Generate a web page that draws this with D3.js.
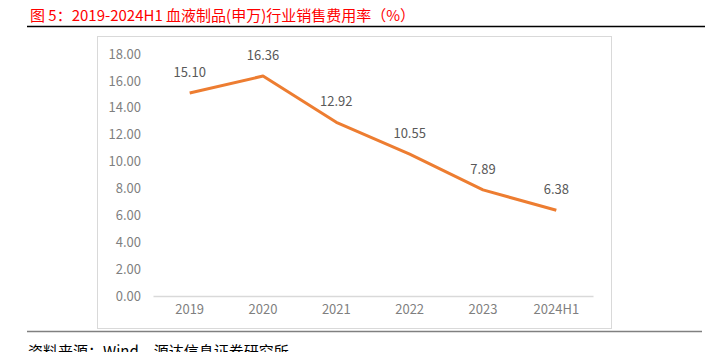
<!DOCTYPE html>
<html><head><meta charset="utf-8">
<script src="https://cdn.jsdelivr.net/npm/d3@7"></script>
<style>
body{margin:0;background:#fff;}
svg{display:block;}
</style></head>
<body>
<svg id="c" width="714" height="352"></svg>
<script>
const categories = ["2019","2020","2021","2022","2023","2024H1"];
const values = [15.10, 16.36, 12.92, 10.55, 7.89, 6.38];
const yTicks = [0,2,4,6,8,10,12,14,16,18];
const titleText = "图 5：2019-2024H1 血液制品(申万)行业销售费用率（%）";
const sourceText = "资料来源：Wind，源达信息证券研究所";

const svg = d3.select("#c");
const font = "'Noto Sans CJK SC','Noto Sans',sans-serif";

svg.append("text").attr("x",30).attr("y",21).attr("fill","#ff0000")
  .attr("font-family",font).attr("font-size",15).text(titleText);
svg.append("line").attr("x1",27).attr("x2",705).attr("y1",26.5).attr("y2",26.5)
  .attr("stroke","#000").attr("stroke-width",1.3);

svg.append("rect").attr("x",97.5).attr("y",36.5).attr("width",514).attr("height",292)
  .attr("fill","#fff").attr("stroke","#d9d9d9").attr("stroke-width",1);

svg.append("line").attr("x1",27).attr("x2",702).attr("y1",331.5).attr("y2",331.5)
  .attr("stroke","#808080").attr("stroke-width",1.3);
svg.append("text").attr("x",28).attr("y",357).attr("fill","#000")
  .attr("font-family",font).attr("font-size",15).text(sourceText);

const x = d3.scaleBand().domain(categories).range([153,593]);
const y = d3.scaleLinear().domain([0,18]).range([296,54]);

const yAxis = svg.append("g").attr("transform","translate(153,0)")
  .call(d3.axisLeft(y).tickValues(yTicks).tickFormat(d3.format(".2f")).tickSize(0).tickPadding(12));
yAxis.select(".domain").remove();
yAxis.selectAll("text").attr("fill","#7f7f7f").attr("font-family",font).attr("font-size",13);

const xAxis = svg.append("g").attr("transform","translate(0,296)")
  .call(d3.axisBottom(x).tickSize(0).tickPadding(9));
xAxis.select(".domain").attr("stroke","#d9d9d9").attr("stroke-width",1.3);
xAxis.selectAll("text").attr("fill","#7f7f7f").attr("font-family",font).attr("font-size",13);

const cx = d => x(d) + x.bandwidth()/2;
const line = d3.line().x((d,i)=>cx(categories[i])).y(d=>y(d));
svg.append("path").datum(values).attr("d",line).attr("fill","none")
  .attr("stroke","#ed7d31").attr("stroke-width",3).attr("stroke-linejoin","round");

svg.selectAll(".lbl").data(values).enter().append("text")
  .attr("x",(d,i)=>cx(categories[i])).attr("y",d=>y(d)-16)
  .attr("text-anchor","middle").attr("fill","#595959")
  .attr("font-family",font).attr("font-size",13).text(d=>d.toFixed(2));
</script>
</body></html>
